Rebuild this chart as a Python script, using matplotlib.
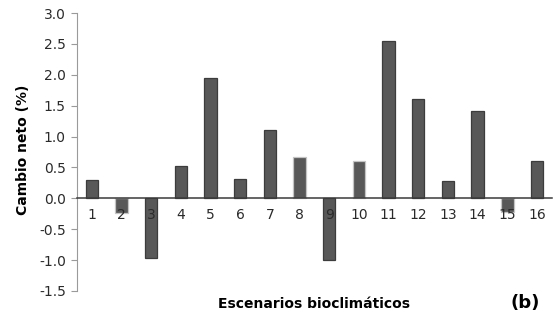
import matplotlib.pyplot as plt

plt.rcParams['font.family'] = ['DejaVu Sans']

escenarios = [str(i) for i in range(1, 17)]
cambio_neto = [0.30, -0.24, -0.97, 0.53, 1.95, 0.31, 1.10, 0.67,
               -1.00, 0.61, 2.55, 1.60, 0.28, 1.41, -0.22, 0.60]
yticks = [-1.5, -1.0, -0.5, 0.0, 0.5, 1.0, 1.5, 2.0, 2.5, 3.0]

fig = plt.figure(figsize=(5.54, 3.21), dpi=100)
ax = fig.add_axes([0.139, 0.0935, 0.857, 0.866])

pos = list(range(1, len(escenarios) + 1))
edges = ['#3c3c3c'] * len(pos)
for i in (1, 7, 9, 14):
    edges[i] = '#c4c4c4'
ax.bar(pos, cambio_neto, width=0.42, color='#585858', edgecolor=edges, linewidth=0.9, zorder=2)

ax.set_xlim(0.5, 16.5)
ax.set_ylim(-1.5, 3.0)
ax.set_yticks(yticks)
ax.set_yticklabels([f'{v:.1f}' for v in yticks], fontsize=10, color='#2a2a2a')

ax.spines['top'].set_visible(False)
ax.spines['right'].set_visible(False)
ax.spines['left'].set_color('#9a9a9a')
ax.spines['bottom'].set_position(('data', 0))
ax.spines['bottom'].set_color('#3a3a3a')
ax.spines['bottom'].set_linewidth(1.1)
ax.spines['bottom'].set_zorder(3)
ax.tick_params(axis='y', direction='out', length=4, color='#9a9a9a', pad=4)

ax.set_xticks(pos)
ax.set_xticklabels(escenarios, fontsize=10, color='#2a2a2a')
ax.tick_params(axis='x', length=0, pad=7)
ax.xaxis.set_zorder(5)

fig.text(0.042, 0.533, 'Cambio neto (%)', rotation=90, ha='center', va='center',
         fontsize=10, fontweight='bold')
fig.text(0.567, 0.053, 'Escenarios bioclimáticos', ha='center', va='center',
         fontsize=10, fontweight='bold')
fig.text(0.948, 0.056, '(b)', ha='center', va='center', fontsize=13, fontweight='bold')

fig.savefig('out.png', dpi=100)
